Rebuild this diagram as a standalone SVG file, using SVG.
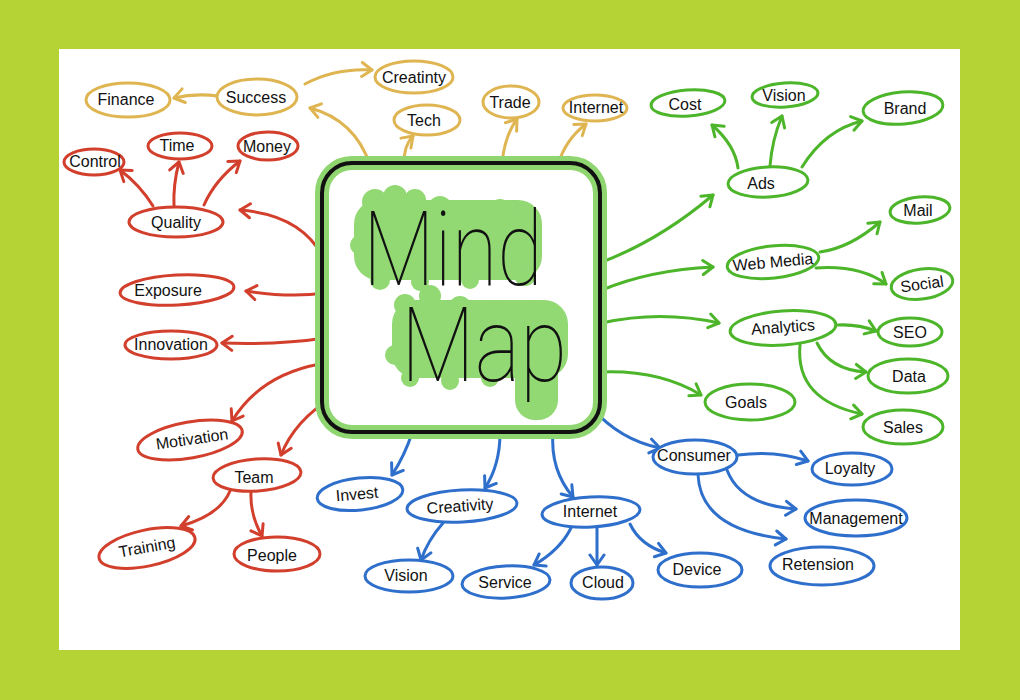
<svg xmlns="http://www.w3.org/2000/svg" width="1020" height="700" viewBox="0 0 1020 700">
<defs>
<style>
.t{font-family:"Liberation Sans","DejaVu Sans",sans-serif;font-size:16px;fill:#111;text-anchor:middle;dominant-baseline:central}
.n{fill:#fff;stroke-width:3}
.c{fill:none;stroke-width:3;stroke-linecap:round}
.gold{stroke:#dfb552}.red{stroke:#d23f2c}.grn{stroke:#4cb52a}.blu{stroke:#2f6fcc}
.big{font-family:"Roboto","Liberation Sans",sans-serif;font-weight:100;font-size:104px;fill:#111}
.blob{fill:#92d974}
</style>
<marker id="ag" viewBox="-12 -9 14 18" markerWidth="14" markerHeight="18" refX="0" refY="0" orient="auto" markerUnits="userSpaceOnUse"><path d="M-10 -7 L0 0 L-10 7" fill="none" stroke="#dfb552" stroke-width="3" stroke-linecap="round" stroke-linejoin="round"/></marker>
<marker id="ar" viewBox="-12 -9 14 18" markerWidth="14" markerHeight="18" refX="0" refY="0" orient="auto" markerUnits="userSpaceOnUse"><path d="M-10 -7 L0 0 L-10 7" fill="none" stroke="#d23f2c" stroke-width="3" stroke-linecap="round" stroke-linejoin="round"/></marker>
<marker id="an" viewBox="-12 -9 14 18" markerWidth="14" markerHeight="18" refX="0" refY="0" orient="auto" markerUnits="userSpaceOnUse"><path d="M-10 -7 L0 0 L-10 7" fill="none" stroke="#4cb52a" stroke-width="3" stroke-linecap="round" stroke-linejoin="round"/></marker>
<marker id="ab" viewBox="-12 -9 14 18" markerWidth="14" markerHeight="18" refX="0" refY="0" orient="auto" markerUnits="userSpaceOnUse"><path d="M-10 -7 L0 0 L-10 7" fill="none" stroke="#2f6fcc" stroke-width="3" stroke-linecap="round" stroke-linejoin="round"/></marker>
</defs>
<rect x="0" y="0" width="1020" height="700" fill="#b5d335"/>
<rect x="59" y="49" width="901" height="601" fill="#fff"/>

<g id="connectors">
<g class="c gold" marker-end="url(#ag)">
<path d="M218 96 Q195 93 174 98"/>
<path d="M305 84 Q335 68 372 70"/>
<path d="M370 165 Q355 120 310 108"/>
<path d="M404 163 Q404 145 413 136"/>
<path d="M502 163 Q505 135 517 119"/>
<path d="M558 165 Q565 140 586 124"/>
</g>
<g class="c red" marker-end="url(#ar)">
<path d="M153 206 Q140 185 120 170"/>
<path d="M174 206 Q173 185 179 162"/>
<path d="M204 205 Q215 180 240 161"/>
<path d="M326 263 Q305 215 240 210"/>
<path d="M325 293 Q290 298 246 291"/>
<path d="M325 338 Q280 345 222 343"/>
<path d="M320 364 Q260 375 232 421"/>
<path d="M333 397 Q295 420 281 455"/>
<path d="M230 491 Q220 515 181 526"/>
<path d="M251 492 Q250 515 262 536"/>
</g>
<g class="c grn" marker-end="url(#an)">
<path d="M602 262 Q660 240 713 195"/>
<path d="M602 290 Q650 270 713 267"/>
<path d="M602 323 Q660 310 719 323"/>
<path d="M602 372 Q660 370 701 395"/>
<path d="M738 168 Q735 145 712 125"/>
<path d="M770 166 Q772 140 782 116"/>
<path d="M802 167 Q825 130 862 121"/>
<path d="M820 252 Q850 248 880 222"/>
<path d="M816 268 Q860 265 886 284"/>
<path d="M838 325 Q858 324 876 331"/>
<path d="M817 343 Q830 370 866 372"/>
<path d="M800 345 Q795 400 862 414"/>
</g>
<g class="c blu" marker-end="url(#ab)">
<path d="M412 433 Q405 455 392 475"/>
<path d="M500 433 Q500 465 485 488"/>
<path d="M553 432 Q550 470 573 497"/>
<path d="M592 408 Q620 440 660 448"/>
<path d="M443 523 Q428 540 421 560"/>
<path d="M571 528 Q560 550 534 565"/>
<path d="M597 528 L597 565"/>
<path d="M630 524 Q640 545 666 553"/>
<path d="M738 455 Q775 450 808 461"/>
<path d="M727 470 Q740 505 796 509"/>
<path d="M698 474 Q700 530 786 539"/>
</g>
</g>

<g id="center">
<rect x="322" y="163" width="278" height="269" rx="30" fill="#fff" stroke="#8fd670" stroke-width="14"/>
<rect x="322" y="163" width="278" height="269" rx="30" fill="none" stroke="#111" stroke-width="4"/>
<rect x="354" y="200" width="188" height="80" rx="24" class="blob"/>
<circle cx="375" cy="202" r="13" class="blob"/><circle cx="395" cy="197" r="12" class="blob"/><circle cx="415" cy="200" r="11" class="blob"/>
<circle cx="440" cy="208" r="12" class="blob"/><circle cx="470" cy="213" r="12" class="blob"/><circle cx="500" cy="211" r="12" class="blob"/><circle cx="527" cy="220" r="14" class="blob"/>
<circle cx="360" cy="245" r="10" class="blob"/><circle cx="380" cy="280" r="10" class="blob"/><circle cx="420" cy="282" r="9" class="blob"/><circle cx="470" cy="280" r="9" class="blob"/><circle cx="525" cy="275" r="11" class="blob"/>
<rect x="392" y="300" width="176" height="78" rx="24" class="blob"/>
<circle cx="405" cy="305" r="11" class="blob"/><circle cx="430" cy="296" r="11" class="blob"/><circle cx="460" cy="307" r="11" class="blob"/><circle cx="495" cy="314" r="12" class="blob"/><circle cx="530" cy="315" r="12" class="blob"/><circle cx="556" cy="330" r="12" class="blob"/>
<circle cx="395" cy="355" r="10" class="blob"/><circle cx="410" cy="378" r="9" class="blob"/><circle cx="450" cy="381" r="9" class="blob"/><circle cx="490" cy="378" r="9" class="blob"/>
<rect x="515" y="335" width="43" height="85" rx="20" class="blob"/>
<text class="big"><tspan x="363" y="285" textLength="180" lengthAdjust="spacingAndGlyphs">Mind</tspan><tspan x="401" y="381" textLength="166" lengthAdjust="spacingAndGlyphs">Map</tspan></text>
</g>

<g id="finance"><ellipse class="n gold" cx="128" cy="100" rx="42" ry="17"/><text class="t" x="126" y="99">Finance</text></g>
<g id="success"><ellipse class="n gold" cx="257" cy="97" rx="40" ry="18"/><text class="t" x="256" y="97">Success</text></g>
<g id="creativity-gold"><ellipse class="n gold" cx="414" cy="77" rx="39" ry="16"/><text class="t" x="414" y="77" font-size="15">Creatinty</text></g>
<g id="tech"><ellipse class="n gold" cx="427" cy="120" rx="33" ry="15"/><text class="t" x="424" y="120">Tech</text></g>
<g id="trade"><ellipse class="n gold" cx="511" cy="102" rx="28" ry="16"/><text class="t" x="510" y="102" font-size="15">Trade</text></g>
<g id="internet-gold"><ellipse class="n gold" cx="595" cy="108" rx="32" ry="13"/><text class="t" x="596" y="107" font-size="14">Internet</text></g>

<g id="control"><ellipse class="n red" cx="94" cy="162" rx="30" ry="13"/><text class="t" x="95" y="161" font-size="12">Control</text></g>
<g id="time"><ellipse class="n red" cx="180" cy="146" rx="32" ry="13"/><text class="t" x="177" y="145" font-size="14">Time</text></g>
<g id="money"><ellipse class="n red" cx="268" cy="146" rx="30" ry="14"/><text class="t" x="267" y="146" font-size="14">Money</text></g>
<g id="quality"><ellipse class="n red" cx="176" cy="222" rx="47" ry="15"/><text class="t" x="176" y="222">Quality</text></g>
<g id="exposure"><ellipse class="n red" cx="177" cy="290" rx="57" ry="15" transform="rotate(-3 177 290)"/><text class="t" x="168" y="290">Exposure</text></g>
<g id="innovation"><ellipse class="n red" cx="171" cy="345" rx="46" ry="14"/><text class="t" x="171" y="344" font-size="14">Innovation</text></g>
<g id="motivation"><ellipse class="n red" cx="190" cy="440" rx="53" ry="18" transform="rotate(-10 190 440)"/><text class="t" x="192" y="439" transform="rotate(-8 192 439)" font-size="17">Motivation</text></g>
<g id="team"><ellipse class="n red" cx="257" cy="475" rx="44" ry="16" transform="rotate(-4 257 475)"/><text class="t" x="254" y="477" font-size="15">Team</text></g>
<g id="training"><ellipse class="n red" cx="147" cy="548" rx="49" ry="18" transform="rotate(-12 147 548)"/><text class="t" x="147" y="547" transform="rotate(-10 147 547)" font-size="16">Training</text></g>
<g id="people"><ellipse class="n red" cx="277" cy="554" rx="43" ry="17"/><text class="t" x="272" y="555" font-size="16">People</text></g>

<g id="cost"><ellipse class="n grn" cx="688" cy="103" rx="37" ry="13" transform="rotate(-4 688 103)"/><text class="t" x="685" y="104">Cost</text></g>
<g id="vision-green"><ellipse class="n grn" cx="785" cy="95" rx="33" ry="12" transform="rotate(-4 785 95)"/><text class="t" x="784" y="95" font-size="14">Vision</text></g>
<g id="brand"><ellipse class="n grn" cx="903" cy="108" rx="40" ry="16" transform="rotate(-5 903 108)"/><text class="t" x="905" y="108">Brand</text></g>
<g id="ads"><ellipse class="n grn" cx="768" cy="182" rx="40" ry="15" transform="rotate(-3 768 182)"/><text class="t" x="761" y="183">Ads</text></g>
<g id="mail"><ellipse class="n grn" cx="920" cy="210" rx="30" ry="13" transform="rotate(-5 920 210)"/><text class="t" x="918" y="210" font-size="14">Mail</text></g>
<g id="webmedia"><ellipse class="n grn" cx="773" cy="262" rx="46" ry="16" transform="rotate(-6 773 262)"/><text class="t" x="773" y="262" transform="rotate(-5 773 262)" font-size="15">Web Media</text></g>
<g id="social"><ellipse class="n grn" cx="922" cy="284" rx="31" ry="15" transform="rotate(-8 922 284)"/><text class="t" x="922" y="284" transform="rotate(-8 922 284)" font-size="15">Social</text></g>
<g id="analytics"><ellipse class="n grn" cx="783" cy="328" rx="53" ry="17" transform="rotate(-4 783 328)"/><text class="t" x="783" y="327" transform="rotate(-4 783 327)" font-size="17">Analytics</text></g>
<g id="seo"><ellipse class="n grn" cx="910" cy="332" rx="32" ry="14"/><text class="t" x="910" y="332" font-size="18">SEO</text></g>
<g id="data"><ellipse class="n grn" cx="908" cy="376" rx="40" ry="17"/><text class="t" x="909" y="376" font-size="19">Data</text></g>
<g id="sales"><ellipse class="n grn" cx="903" cy="427" rx="40" ry="17"/><text class="t" x="903" y="427" font-size="19">Sales</text></g>
<g id="goals"><ellipse class="n grn" cx="750" cy="402" rx="45" ry="18"/><text class="t" x="746" y="402" font-size="19">Goals</text></g>

<g id="invest"><ellipse class="n blu" cx="360" cy="494" rx="43" ry="16" transform="rotate(-6 360 494)"/><text class="t" x="357" y="494" transform="rotate(-5 357 494)" font-size="15">Invest</text></g>
<g id="creativity-blue"><ellipse class="n blu" cx="462" cy="506" rx="55" ry="16" transform="rotate(-3 462 506)"/><text class="t" x="460" y="506" transform="rotate(-4 460 506)" font-size="15">Creativity</text></g>
<g id="internet-blue"><ellipse class="n blu" cx="591" cy="512" rx="49" ry="15" transform="rotate(-3 591 512)"/><text class="t" x="590" y="511" font-size="15">Internet</text></g>
<g id="vision-blue"><ellipse class="n blu" cx="409" cy="576" rx="44" ry="16"/><text class="t" x="406" y="575" font-size="16">Vision</text></g>
<g id="service"><ellipse class="n blu" cx="506" cy="582" rx="44" ry="16" transform="rotate(-3 506 582)"/><text class="t" x="505" y="582" font-size="15">Service</text></g>
<g id="cloud"><ellipse class="n blu" cx="602" cy="583" rx="31" ry="16"/><text class="t" x="603" y="582" font-size="15">Cloud</text></g>
<g id="device"><ellipse class="n blu" cx="700" cy="570" rx="42" ry="17"/><text class="t" x="697" y="569" font-size="16">Device</text></g>
<g id="consumer"><ellipse class="n blu" cx="695" cy="457" rx="42" ry="17"/><text class="t" x="694" y="455" font-size="14">Consumer</text></g>
<g id="loyalty"><ellipse class="n blu" cx="852" cy="469" rx="40" ry="16"/><text class="t" x="850" y="468" font-size="16">Loyalty</text></g>
<g id="management"><ellipse class="n blu" cx="856" cy="518" rx="51" ry="18"/><text class="t" x="856" y="518" font-size="14">Management</text></g>
<g id="retension"><ellipse class="n blu" cx="822" cy="566" rx="52" ry="19"/><text class="t" x="818" y="564" font-size="16">Retension</text></g>
</svg>
